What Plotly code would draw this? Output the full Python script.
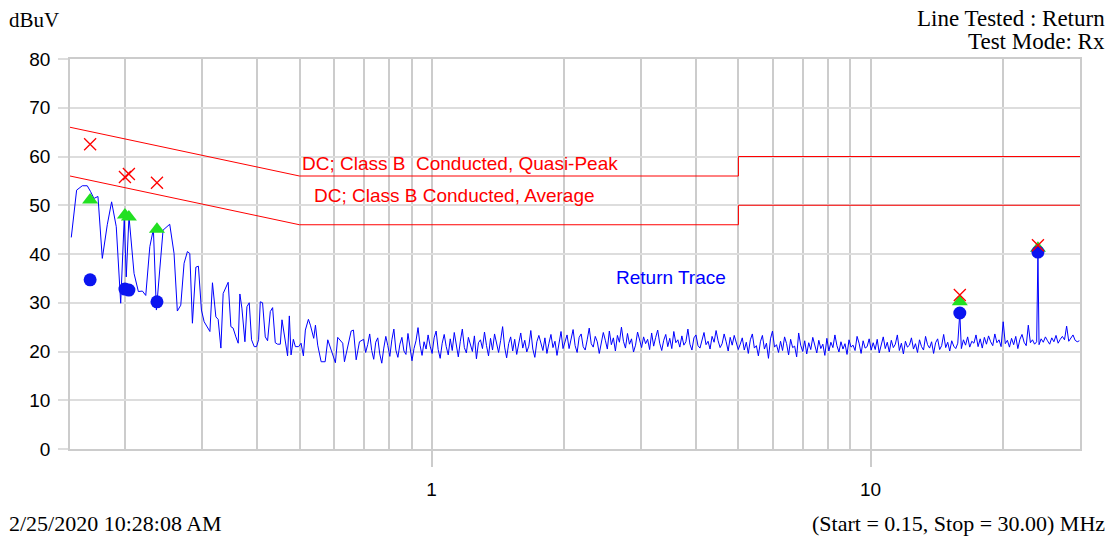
import numpy as np
import plotly.graph_objects as go

# Limit lines (MHz, dBuV)
limit_f = [0.15, 0.5, 5.0, 5.0, 30.0]
qp_limit = [66, 56, 56, 60, 60]
avg_limit = [56, 46, 46, 50, 50]

# Trace, low band read point by point (MHz, dBuV)
low_f = [0.1510, 0.1553, 0.1600, 0.1642, 0.1671, 0.1701, 0.1737, 0.1777, 0.1824, 0.1866,
         0.1912, 0.1957, 0.1994, 0.2015, 0.2044, 0.2099, 0.2147, 0.2193, 0.2232, 0.2280,
         0.2323, 0.2360, 0.2444, 0.2531, 0.2589, 0.2634, 0.2682, 0.2729, 0.2777, 0.2812,
         0.2851, 0.2903, 0.2942, 0.2989, 0.3032, 0.3085, 0.3125, 0.3167, 0.3224, 0.3263,
         0.3310, 0.3350, 0.3398, 0.3439, 0.3488, 0.3530, 0.3581, 0.3625, 0.3657, 0.3696,
         0.3755, 0.3795, 0.3841, 0.3888, 0.3943, 0.3991, 0.4034, 0.4070, 0.4119, 0.4178,
         0.4229, 0.4290, 0.4342, 0.4403, 0.4457, 0.4521, 0.4561, 0.4617, 0.4697, 0.4740,
         0.4783, 0.4841, 0.4893, 0.4977, 0.5041, 0.5103, 0.5156, 0.5239, 0.5294, 0.5387,
         0.5436, 0.5501, 0.5601, 0.5720, 0.5799, 0.6036, 0.6110, 0.6272, 0.6329, 0.6556,
         0.6635, 0.6731, 0.6848]
low_v = [43.4, 53.1, 54.0, 54.0, 52.8, 51.4, 51.8, 39.1, 46.0, 50.7,
         45.6, 29.9, 47.5, 35.3, 47.7, 36.0, 32.3, 32.4, 31.5, 41.5,
         45.1, 28.5, 44.9, 46.1, 40.1, 28.3, 29.5, 38.1, 40.5, 40.1,
         25.8, 37.3, 37.5, 28.5, 26.1, 24.8, 24.1, 34.1, 27.1, 26.6,
         20.7, 31.9, 33.3, 34.2, 25.1, 24.8, 23.0, 21.7, 31.8, 28.9,
         22.0, 29.2, 30.0, 22.4, 21.0, 21.0, 22.4, 30.2, 30.0, 23.0,
         22.2, 28.2, 29.0, 21.8, 21.5, 21.5, 26.5, 23.4, 19.1, 27.3,
         19.3, 22.5, 21.0, 21.0, 21.7, 19.1, 24.4, 26.6, 25.4, 22.7,
         25.4, 21.3, 17.9, 17.9, 22.4, 17.7, 22.9, 21.7, 17.9, 24.2,
         24.4, 18.3, 22.0]

# Sweep 0.7 - 15.8 MHz
sweep_a = [22.5, 19.8, 21.4, 23.6, 20.2, 18.4, 21.9, 22.8, 19.5, 17.6, 20.7, 23.1, 21.2, 19.0, 22.4, 24.6, 20.3,
           18.8, 21.5, 22.9, 20.1, 19.4, 23.7, 21.0, 18.1, 20.6, 22.2, 24.9, 21.3, 19.2, 22.0, 20.5, 23.4, 21.1,
           19.6, 22.8, 24.2, 20.4, 18.6, 21.7, 23.5, 21.0, 19.3, 22.6, 20.2, 23.9, 21.4, 18.9, 22.1, 24.6, 20.8,
           19.7, 22.9, 21.3, 20.0, 23.2, 18.5, 21.8, 22.4, 20.6, 24.0, 21.2, 19.1, 22.7, 20.3, 23.6, 21.5, 19.8,
           22.2, 25.1, 20.9, 18.7, 21.6, 23.0, 20.1, 22.5, 19.4, 21.9, 23.8, 20.7, 22.3, 19.9, 21.1, 24.3, 20.5,
           18.8, 22.0, 23.3, 21.4, 20.2, 22.8, 19.6, 21.7, 23.5, 20.8, 22.1, 19.2, 21.3, 24.1, 20.6,
           21.8, 23.4, 20.6, 22.7, 24.5, 21.2, 19.8, 22.9, 23.6, 21.0, 20.3, 22.4, 24.8, 21.6, 20.9, 23.1, 22.0,
           19.6, 21.7, 23.9, 22.3, 20.5, 24.2, 21.4, 22.8, 20.1, 23.3, 21.9, 25.0, 22.1, 20.7, 23.7, 21.5, 22.6,
           19.9, 21.3, 24.0, 22.2, 20.8, 23.0, 21.6, 22.5, 20.4, 23.8, 21.1, 22.9, 24.4, 21.7, 20.2, 22.3, 23.5,
           21.0, 22.7, 20.6, 24.1, 21.8, 22.4, 20.9, 23.2, 21.3, 22.0, 24.6, 21.5, 20.3, 22.8, 23.4, 21.2, 20.7,
           22.6, 23.9, 21.4, 22.1, 20.5, 23.1, 21.9, 24.3, 22.2, 20.8, 21.6, 23.6, 22.0, 20.1, 22.9, 21.3, 23.3,
           21.7, 20.4,
           21.5, 22.8, 20.3, 21.9, 19.6, 22.4, 23.6, 20.7, 21.2, 19.1, 22.0, 23.3, 20.5, 21.7, 18.6, 22.6, 24.2,
           20.9, 21.4, 19.8, 22.1, 20.2, 23.0, 21.6, 19.3, 22.5, 20.8, 21.1, 18.9, 23.8, 21.3, 20.0, 22.2, 19.5,
           21.8, 20.4, 22.9, 21.0, 19.7, 22.3, 20.6, 21.5, 19.2, 22.7, 20.1, 21.9, 20.8, 23.4, 21.2, 19.9, 22.0,
           20.5, 21.6, 19.4, 22.4, 20.9, 21.3, 20.2, 23.1, 21.7, 19.6, 22.2, 20.7, 21.0, 22.6, 20.3,
           21.8, 20.4, 22.5, 19.7, 21.2, 23.0, 20.6, 21.9, 19.9, 22.3, 20.8, 21.5, 23.4, 20.2, 21.7, 19.5, 22.1,
           20.9, 21.3, 22.8, 20.5, 21.6, 19.8, 22.4, 21.0, 20.3, 23.1, 21.4, 20.7, 22.0, 19.6, 21.8, 22.6, 20.4,
           21.2, 23.5, 20.8, 21.9, 20.1, 22.2, 21.1, 20.6, 21.7]
spike1_f, spike1_v = 15.97, 27.9
# Sweep 16.1 - 23.9 MHz
sweep_b = [20.6, 22.4, 21.3, 23.0, 20.9, 22.1, 21.7, 23.4, 21.0, 22.6, 20.7, 22.9, 21.5, 23.2, 22.0, 21.2,
           23.6, 21.8, 22.4, 21.0, 26.1, 21.6, 22.3, 20.9, 22.7, 21.4, 23.1, 20.6, 22.5, 23.5, 21.9, 21.2,
           25.4, 21.8, 22.4, 21.5, 22.0]
spike2_f, spike2_v = 24.06, 40.4
# Sweep 24.2 - 29.9 MHz
sweep_c = [21.4, 22.6, 21.9, 23.0, 22.2, 21.5, 22.8, 22.0, 23.3, 21.7, 22.5, 23.1, 22.4, 25.2, 22.1, 22.9,
           23.4, 22.3, 22.0, 22.2]

trace_f = (low_f + list(np.geomspace(0.70, 15.8, len(sweep_a))) + [spike1_f]
           + list(np.geomspace(16.1, 23.9, len(sweep_b))) + [spike2_f]
           + list(np.geomspace(24.2, 29.9, len(sweep_c))))
trace_v = low_v + sweep_a + [spike1_v] + sweep_b + [spike2_v] + sweep_c

# Final measurements
meas_f = [0.1667, 0.2001, 0.2043, 0.2367, 15.97, 24.06]
qp_meas = [62.5, 55.8, 56.4, 54.6, 31.6, 41.8]
avg_meas = [51.1, 48.0, 47.6, 45.1, 30.2, 41.2]
peak_meas = [34.7, 32.8, 32.6, 30.2, 27.9, 40.4]

fig = go.Figure()
fig.add_trace(go.Scatter(x=limit_f, y=qp_limit, mode='lines', line=dict(color='#ff0000', width=1)))
fig.add_trace(go.Scatter(x=limit_f, y=avg_limit, mode='lines', line=dict(color='#ff0000', width=1)))
fig.add_trace(go.Scatter(x=trace_f, y=trace_v, mode='lines', line=dict(color='#0000ff', width=1)))
fig.add_trace(go.Scatter(x=meas_f, y=avg_meas, mode='markers',
                         marker=dict(symbol='triangle-up', size=14, color='#22e022')))
fig.add_trace(go.Scatter(x=meas_f, y=peak_meas, mode='markers',
                         marker=dict(symbol='circle', size=13, color='#0a14f0')))
fig.add_trace(go.Scatter(x=meas_f, y=qp_meas, mode='markers',
                         marker=dict(symbol='x-thin-open', size=12, color='#ff0000',
                                     line=dict(color='#ff0000', width=1.3))))

sans = 'Liberation Sans, Arial, sans-serif'
serif = 'Liberation Serif, Times New Roman, serif'

annotations = [
    dict(text='DC; Class B\u00a0 Conducted, Quasi-Peak', x=np.log10(0.5), y=58.5, xref='x', yref='y',
         xanchor='left', font=dict(family=sans, size=19, color='#ff0000')),
    dict(text='DC; Class B Conducted, Average', x=np.log10(0.535), y=51.9, xref='x', yref='y',
         xanchor='left', font=dict(family=sans, size=19, color='#ff0000')),
    dict(text='Return Trace', x=np.log10(2.6), y=35.1, xref='x', yref='y',
         xanchor='left', font=dict(family=sans, size=19, color='#0000ff')),
    dict(text='dBuV', x=-0.062, y=1.1, xref='paper', yref='paper', xanchor='left',
         font=dict(family=serif, size=21, color='#000000')),
    dict(text='Line Tested : Return', x=1.0267, y=1.105, xref='paper', yref='paper', xanchor='right',
         font=dict(family=serif, size=23, color='#000000')),
    dict(text='Test Mode: Rx', x=1.0267, y=1.046, xref='paper', yref='paper', xanchor='right',
         font=dict(family=serif, size=23, color='#000000')),
    dict(text='2/25/2020 10:28:08 AM', x=-0.062, y=-0.192, xref='paper', yref='paper', xanchor='left',
         font=dict(family=serif, size=22, color='#000000')),
    dict(text='(Start = 0.15, Stop = 30.00) MHz', x=1.0267, y=-0.192, xref='paper', yref='paper',
         xanchor='right', font=dict(family=serif, size=22, color='#000000')),
]
for a in annotations:
    a.update(showarrow=False, yanchor='middle')

grid_c = '#cccccc'
fig.update_layout(
    width=1114, height=538,
    margin=dict(l=70, r=34, t=59, b=89),
    plot_bgcolor='#ffffff', paper_bgcolor='#ffffff',
    showlegend=False,
    annotations=annotations,
    xaxis=dict(type='log', range=[np.log10(0.15), np.log10(30)],
               tickvals=[1, 10], ticktext=['1', '10'], ticks='outside', ticklen=16,
               tickcolor=grid_c, tickwidth=1.5, ticklabelstandoff=6,
               tickfont=dict(family=sans, size=19, color='#000000'),
               showgrid=True, gridcolor=grid_c, gridwidth=1.5,
               minor=dict(tickvals=[0.2, 0.3, 0.4, 0.5, 0.6, 0.7, 0.8, 0.9,
                                    2, 3, 4, 5, 6, 7, 8, 9, 20],
                          showgrid=True, gridcolor=grid_c, gridwidth=1.5, ticks=''),
               showline=True, mirror=True, linecolor=grid_c, linewidth=1.5, zeroline=False),
    yaxis=dict(range=[0, 80], dtick=10, ticks='outside', ticklen=10, tickcolor='#dddddd', tickwidth=1.5,
               ticklabelstandoff=4,
               tickfont=dict(family=sans, size=19, color='#000000'),
               showgrid=True, gridcolor='#dddddd', gridwidth=1.5,
               showline=True, mirror=True, linecolor=grid_c, linewidth=1.5, zeroline=False),
)

# page body has a default margin; remove it so the figure sits at the window corner
fig.write_html('out.html', config={'displayModeBar': False},
               post_script="document.body.style.margin='0px';")
